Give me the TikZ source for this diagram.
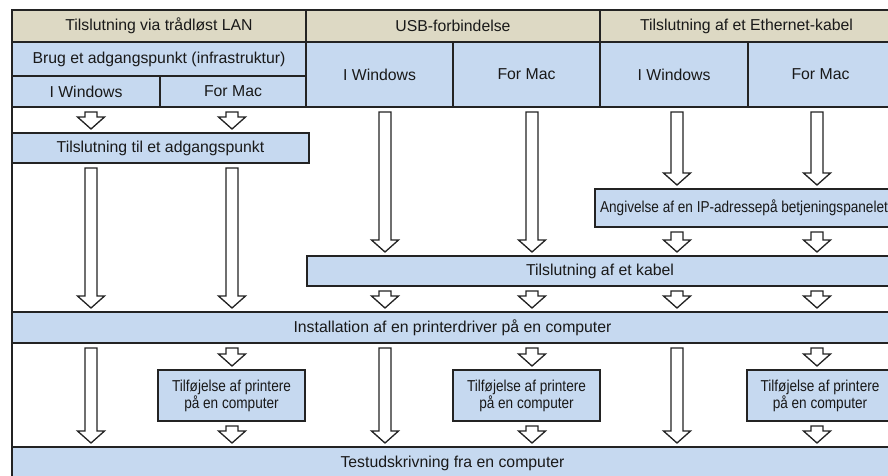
\documentclass[tikz,border=0pt]{standalone}
\usepackage{fontspec}
\usepackage{graphicx}
\setmainfont{Liberation Sans}
\usetikzlibrary{calc}
\definecolor{hdr}{RGB}{221,217,196}
\definecolor{cellblue}{RGB}{198,217,240}
\definecolor{ln}{RGB}{35,35,35}
\definecolor{txt}{RGB}{25,25,25}
\tikzset{
  box/.style={draw=ln, line width=1.2pt, inner sep=0pt, outer sep=0pt, text=txt,
    font=\fontsize{15.8}{17}\selectfont, align=center},
  hdrbox/.style={box, fill=hdr},
  bluebox/.style={box, fill=cellblue},
  blockarrow/.style={draw=ln, fill=white, line width=1.3pt, line join=miter},
  frame/.style={draw=ln, line width=1.3pt},
}
\newcommand{\blockarr}[3]{%
  \path[blockarrow] let \p1=(#2.south -| #1), \p2=(#3.north -| #1) in
  (\x1-6pt,\y1-5pt) -- (\x1+6pt,\y1-5pt) -- (\x1+6pt,\y2+16pt) -- (\x1+13.5pt,\y2+16pt)
  -- (\x1,\y2+4pt) -- (\x1-13.5pt,\y2+16pt) -- (\x1-6pt,\y2+16pt) -- cycle;}
\newcommand{\narrowtext}[1]{\scalebox{0.86}[1]{#1}}
\begin{document}
\begin{tikzpicture}[x=1pt,y=-1pt]
\useasboundingbox (0,0) rectangle (888,475);
\clip (0,0) rectangle (888,475);
\fill[white] (0,0) rectangle (888,475);
\draw[frame] (12,10) rectangle (893,480);
% column arrow positions
\coordinate (a1w) at (91,0);
\coordinate (a1m) at (232,0);
\coordinate (a2w) at (385,0);
\coordinate (a2m) at (532,0);
\coordinate (a3w) at (677,0);
\coordinate (a3m) at (817,0);
% headers
\node[hdrbox, minimum width=294pt, minimum height=32pt] (h1) at (159,26) {Tilslutning via trådløst LAN};
\node[hdrbox, minimum width=294pt, minimum height=32pt] (h2) at (453,26) {USB-forbindelse};
\node[hdrbox, minimum width=293pt, minimum height=32pt] (h3) at (746.5,26) {Tilslutning af et Ethernet-kabel};
\node[bluebox, minimum width=294pt, minimum height=34pt] (s1) at (159,59) {Brug et adgangspunkt (infrastruktur)};
\node[bluebox, minimum width=148pt, minimum height=31pt] (w1) at (86,91.5) {I Windows};
\node[bluebox, minimum width=146pt, minimum height=31pt] (m1) at (233,91.5) {For Mac};
\node[bluebox, minimum width=147pt, minimum height=65pt] (w2) at (379.5,74.5) {I Windows};
\node[bluebox, minimum width=147pt, minimum height=65pt] (m2) at (526.5,74.5) {For Mac};
\node[bluebox, minimum width=148pt, minimum height=65pt] (w3) at (674,74.5) {I Windows};
\node[bluebox, minimum width=145pt, minimum height=65pt] (m3) at (820.5,74.5) {For Mac};
% process boxes
\node[bluebox, minimum width=297pt, minimum height=30pt] (ap) at (160.5,148) {Tilslutning til et adgangspunkt};
\node[bluebox, minimum width=298pt, minimum height=38pt] (ip) at (744,208) {\narrowtext{Angivelse af en IP-adressepå betjeningspanelet}};
\node[bluebox, minimum width=586pt, minimum height=30pt] (kab) at (600,271) {Tilslutning af et kabel};
\node[bluebox, minimum width=881pt, minimum height=31pt] (inst) at (452.5,327.5) {Installation af en printerdriver på en computer};
\node[bluebox, minimum width=147pt, minimum height=51pt] (add1) at (231.5,395.5) {\narrowtext{Tilføjelse af printere}\\\narrowtext{på en computer}};
\node[bluebox, minimum width=147pt, minimum height=51pt] (add2) at (526.5,395.5) {\narrowtext{Tilføjelse af printere}\\\narrowtext{på en computer}};
\node[bluebox, minimum width=146pt, minimum height=51pt] (add3) at (820,395.5) {\narrowtext{Tilføjelse af printere}\\\narrowtext{på en computer}};
\node[bluebox, minimum width=881pt, minimum height=33pt] (test) at (452.5,463.5) {Testudskrivning fra en computer};
% column 1 windows
\blockarr{a1w}{w1}{ap}
\blockarr{a1w}{ap}{inst}
\blockarr{a1w}{inst}{test}
% column 1 mac
\blockarr{a1m}{m1}{ap}
\blockarr{a1m}{ap}{inst}
\blockarr{a1m}{inst}{add1}
\blockarr{a1m}{add1}{test}
% column 2 windows
\blockarr{a2w}{w2}{kab}
\blockarr{a2w}{kab}{inst}
\blockarr{a2w}{inst}{test}
% column 2 mac
\blockarr{a2m}{m2}{kab}
\blockarr{a2m}{kab}{inst}
\blockarr{a2m}{inst}{add2}
\blockarr{a2m}{add2}{test}
% column 3 windows
\blockarr{a3w}{w3}{ip}
\blockarr{a3w}{ip}{kab}
\blockarr{a3w}{kab}{inst}
\blockarr{a3w}{inst}{test}
% column 3 mac
\blockarr{a3m}{m3}{ip}
\blockarr{a3m}{ip}{kab}
\blockarr{a3m}{kab}{inst}
\blockarr{a3m}{inst}{add3}
\blockarr{a3m}{add3}{test}
\end{tikzpicture}
\end{document}
